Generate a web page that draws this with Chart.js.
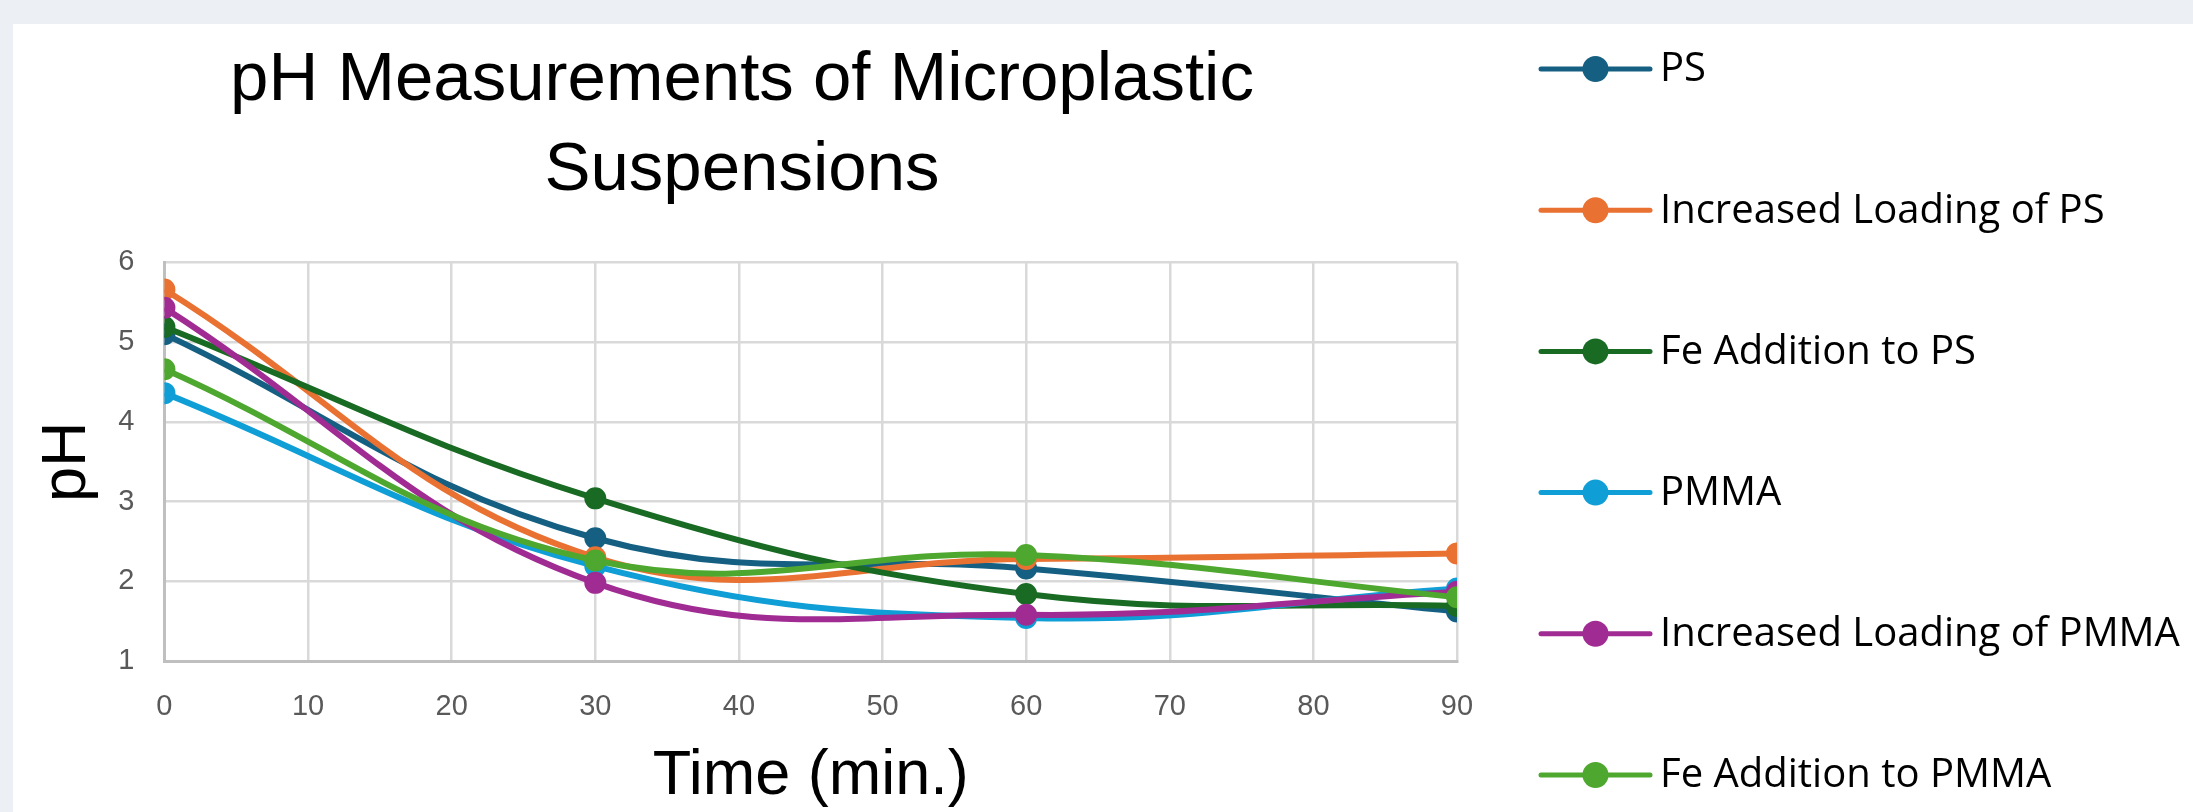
<!DOCTYPE html>
<html>
<head>
<meta charset="utf-8">
<script src="https://cdn.jsdelivr.net/npm/chart.js@4.4.1/dist/chart.umd.min.js"></script>
<style>
  html, body { margin: 0; padding: 0; }
  body { width: 2193px; height: 812px; background: #eceff3; overflow: hidden; position: relative; }
  .card { position: absolute; left: 13px; top: 24px; width: 2180px; height: 788px; background: #ffffff; }
  canvas { display: block; }
</style>
</head>
<body>
<div class="card"><canvas id="chart" width="2180" height="788"></canvas></div>
<script>
// Sampling times (min.)
const times = [0, 30, 60, 90];

// pH readings per suspension
const psValues      = [5.10, 2.54, 2.16, 1.62];
const incPsValues   = [5.66, 2.30, 2.28, 2.35];
const fePsValues    = [5.19, 3.04, 1.84, 1.69];
const pmmaValues    = [4.36, 2.19, 1.54, 1.91];
const incPmmaValues = [5.43, 1.98, 1.58, 1.87];
const fePmmaValues  = [4.66, 2.26, 2.33, 1.80];

const seriesNames = [
  'PS',
  'Increased Loading of PS',
  'Fe Addition to PS',
  'PMMA',
  'Increased Loading of PMMA',
  'Fe Addition to PMMA'
];
const seriesColors = ['#156082', '#e97132', '#196b24', '#0f9ed5', '#a02b93', '#4ea72e'];
const seriesValues = [psValues, incPsValues, fePsValues, pmmaValues, incPmmaValues, fePmmaValues];

const xTicks = [0, 10, 20, 30, 40, 50, 60, 70, 80, 90];
const yTicks = [1, 2, 3, 4, 5, 6];

const chartTitle = ['pH Measurements of Microplastic', 'Suspensions'];
const xTitle = 'Time (min.)';
const yTitle = 'pH';

const FONT = '"Liberation Sans", Arial, sans-serif';

const datasets = seriesNames.map((name, i) => ({
  label: name,
  data: times.map((t, j) => ({ x: t, y: seriesValues[i][j] })),
  borderColor: seriesColors[i],
  backgroundColor: seriesColors[i],
  pointBackgroundColor: seriesColors[i],
  pointBorderColor: seriesColors[i],
  borderWidth: 6,
  pointRadius: 10,
  pointBorderWidth: 2,
  tension: 0.4,
  fill: false,
  order: seriesNames.length - i // later series drawn on top, like Excel
}));

// legend drawn as line + marker, Excel style
const lineLegend = {
  id: 'lineLegend',
  afterDraw(chart, args, opts) {
    const ctx = chart.ctx;
    ctx.save();
    ctx.font = opts.font;
    ctx.textBaseline = 'middle';
    ctx.textAlign = 'left';
    chart.data.datasets.forEach((ds, i) => {
      const y = opts.top + i * opts.rowGap;
      ctx.strokeStyle = ds.borderColor;
      ctx.lineWidth = 5;
      ctx.lineCap = 'round';
      ctx.beginPath();
      ctx.moveTo(opts.left, y);
      ctx.lineTo(opts.left + opts.lineLen, y);
      ctx.stroke();
      ctx.fillStyle = ds.borderColor;
      ctx.beginPath();
      ctx.arc(opts.left + opts.lineLen / 2, y, 13, 0, Math.PI * 2);
      ctx.fill();
      ctx.fillStyle = '#000000';
      ctx.fillText(ds.label, opts.left + opts.lineLen + 10, y + 1);
    });
    ctx.restore();
  }
};

new Chart(document.getElementById('chart'), {
  type: 'line',
  data: { datasets },
  plugins: [lineLegend],
  options: {
    responsive: false,
    animation: false,
    layout: { padding: { left: 14, right: 736, top: 0, bottom: 0 } },
    plugins: {
      legend: { display: false },
      tooltip: { enabled: false },
      title: {
        display: true,
        text: chartTitle,
        color: '#000000',
        font: { family: FONT, size: 69, weight: 'normal', lineHeight: 1.3 },
        padding: { top: 12, bottom: 47 }
      },
      lineLegend: {
        left: 1528,
        lineLen: 109,
        top: 45,
        rowGap: 141.2,
        font: '40px "Open Sans", sans-serif'
      }
    },
    scales: {
      x: {
        type: 'linear',
        min: 0,
        max: 90,
        afterBuildTicks: (axis) => { axis.ticks = xTicks.map(v => ({ value: v })); },
        grid: { color: '#d9d9d9', lineWidth: 2.5, drawTicks: false },
        border: { color: '#bfbfbf', width: 3 },
        ticks: {
          color: '#595959',
          padding: 29,
          maxRotation: 0,
          font: { family: FONT, size: 29, lineHeight: 1.2 }
        },
        title: {
          display: true,
          text: xTitle,
          color: '#000000',
          padding: { top: -11.5, bottom: 0.4 },
          font: { family: FONT, size: 63, lineHeight: 1.1 }
        }
      },
      y: {
        type: 'linear',
        min: 1,
        max: 6,
        afterBuildTicks: (axis) => { axis.ticks = yTicks.map(v => ({ value: v })); },
        grid: { color: '#d9d9d9', lineWidth: 2.5, drawTicks: false },
        border: { color: '#bfbfbf', width: 3 },
        ticks: {
          color: '#595959',
          padding: 30,
          font: { family: FONT, size: 29, lineHeight: 1.2 }
        },
        title: {
          display: true,
          text: yTitle,
          color: '#000000',
          padding: { top: 6, bottom: -14 },
          font: { family: FONT, size: 63, lineHeight: 1.1 }
        }
      }
    }
  }
});
</script>
</body>
</html>
